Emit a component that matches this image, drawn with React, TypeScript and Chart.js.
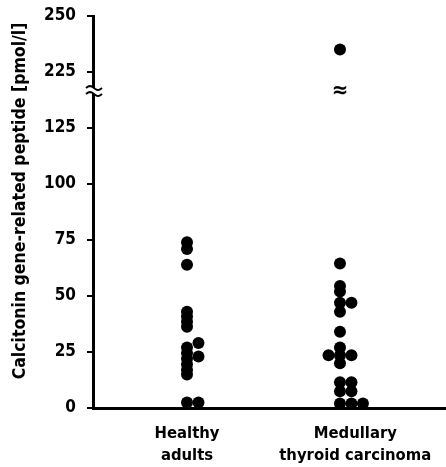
import React, { useEffect, useRef } from "react";
import { Chart, registerables } from "chart.js";

Chart.register(...registerables);

// ---- data ----
const categories = ["Healthy adults", "Medullary thyroid carcinoma"];
const categoryLines = [["Healthy", "adults"], ["Medullary", "thyroid carcinoma"]];
const yTitle = "Calcitonin gene-related peptide [pmol/l]";

// values in pmol/l ; slot = position of the dot inside its column (0 centre, 1 right, -1 left, 2 far right)
const healthyValues = [74, 71, 64, 43, 40.8, 38.5, 36.3, 29, 27, 24.5, 23, 22, 19.5, 17, 15, 2.5, 2.5];
const healthySlots = [0, 0, 0, 0, 0, 0, 0, 1, 0, 0, 1, 0, 0, 0, 0, 0, 1];

const mtcValues = [235, 64.5, 54.5, 52, 47, 47, 43, 34, 27, 23.5, 23.5, 23.5, 20, 11.5, 11.5, 7.5, 7.5, 2, 2, 2];
const mtcSlots = [0, 0, 0, 0, 0, 1, 0, 0, 0, -1, 0, 1, 0, 0, 1, 0, 1, 0, 1, 2];

const yTickValues = [0, 25, 50, 75, 100, 125, 225, 250];

// axis break: values above the break are shifted down by breakShift
const breakLimit = 150;
const breakShift = 75;
const breakMark = 141.5; // where the break symbol sits (display units)
const slotStep = 0.075;
const labelShift = [0, 0.1]; // category label offset from its dot column

const toDisplay = (v: number) => (v <= breakLimit ? v : v - breakShift);
const fromDisplay = (d: number) => (d <= breakLimit - 25 ? d : d + breakShift);

const FONT = "'DejaVu Sans Condensed', 'DejaVu Sans', sans-serif";

const breakPlugin = {
  id: "axisBreak",
  afterDraw(chart: any) {
    const { ctx, scales, chartArea } = chart;
    const y = scales.y;
    const x = scales.x;
    const yp = y.getPixelForValue(breakMark);
    const xa = chartArea.left;
    ctx.save();
    ctx.fillStyle = "#ffffff";
    ctx.fillRect(xa - 3, yp - 3, 6, 6);
    ctx.strokeStyle = "#000";
    ctx.lineWidth = 2;
    for (const dy of [-3, 3]) {
      ctx.beginPath();
      for (let i = 0; i <= 16; i++) {
        const px = xa - 7 + i;
        const py = yp + dy - 2 * Math.sin((i / 16) * Math.PI * 2);
        if (i === 0) ctx.moveTo(px, py);
        else ctx.lineTo(px, py);
      }
      ctx.stroke();
    }
    ctx.fillStyle = "#000";
    ctx.font = `bold 22px ${FONT}`;
    ctx.textAlign = "center";
    ctx.textBaseline = "middle";
    ctx.fillText("\u2248", x.getPixelForValue(2), yp);

    // y-axis title
    ctx.translate(20, (chartArea.top + chartArea.bottom) / 2 - 11);
    ctx.rotate(-Math.PI / 2);
    ctx.font = `bold 17.5px ${FONT}`;
    ctx.fillText(yTitle, 0, 0);
    ctx.restore();
  },
};

export default function App() {
  const ref = useRef<HTMLCanvasElement | null>(null);

  useEffect(() => {
    if (!ref.current) return;
    const mk = (vals: number[], slots: number[], cat: number) =>
      vals.map((v, i) => ({ x: cat + slots[i] * slotStep, y: toDisplay(v) }));

    const chart = new Chart(ref.current, {
      type: "scatter",
      data: {
        datasets: [
          {
            label: categories[0],
            data: mk(healthyValues, healthySlots, 1),
            pointRadius: 6,
            pointBackgroundColor: "#000",
            pointBorderWidth: 0,
            borderWidth: 0,
          },
          {
            label: categories[1],
            data: mk(mtcValues, mtcSlots, 2),
            pointRadius: 6,
            pointBackgroundColor: "#000",
            pointBorderWidth: 0,
            borderWidth: 0,
          },
        ],
      },
      options: {
        animation: false,
        responsive: false,
        devicePixelRatio: 1,
        layout: { autoPadding: false, padding: { top: 16, right: 0, left: 0, bottom: 0 } },
        plugins: { legend: { display: false }, tooltip: { enabled: false } },
        scales: {
          x: {
            type: "linear",
            min: 0.3855,
            max: 2.693,
            afterBuildTicks: (s: any) => {
              s.ticks = categories.map((_, i) => ({ value: i + 1 + labelShift[i] }));
            },
            afterFit: (s: any) => {
              s.height = 59;
              s.paddingLeft = 0;
              s.paddingRight = 0;
            },
            grid: { display: false, drawTicks: false },
            border: { display: true, color: "#000", width: 3 },
            ticks: {
              color: "#000",
              padding: 15,
              maxRotation: 0,
              autoSkip: false,
              font: { family: FONT, size: 16.5, weight: "bold", lineHeight: 1.32 },
              callback: (v: any, i: number) => categoryLines[i] ?? "",
            },
          },
          y: {
            type: "linear",
            min: 0,
            max: 175,
            afterBuildTicks: (s: any) => {
              s.ticks = yTickValues.map((v) => ({ value: toDisplay(v) }));
            },
            afterFit: (s: any) => {
              s.width = 93;
              s.paddingTop = 0;
              s.paddingBottom = 0;
            },
            grid: {
              display: true,
              drawOnChartArea: false,
              drawTicks: true,
              tickLength: 6,
              color: "#000",
              lineWidth: 2,
            },
            border: { display: true, color: "#000", width: 3 },
            ticks: {
              color: "#000",
              padding: 11,
              autoSkip: false,
              font: { family: FONT, size: 17, weight: "bold" },
              callback: (v: any) => String(fromDisplay(Number(v))),
            },
            title: { display: false },
          },
        },
      },
      plugins: [breakPlugin],
    });
    return () => chart.destroy();
  }, []);

  return (
    <div style={{ position: "fixed", left: 0, top: 0, width: 446, height: 467, background: "#fff" }}>
      <canvas ref={ref} width={446} height={467} />
    </div>
  );
}
